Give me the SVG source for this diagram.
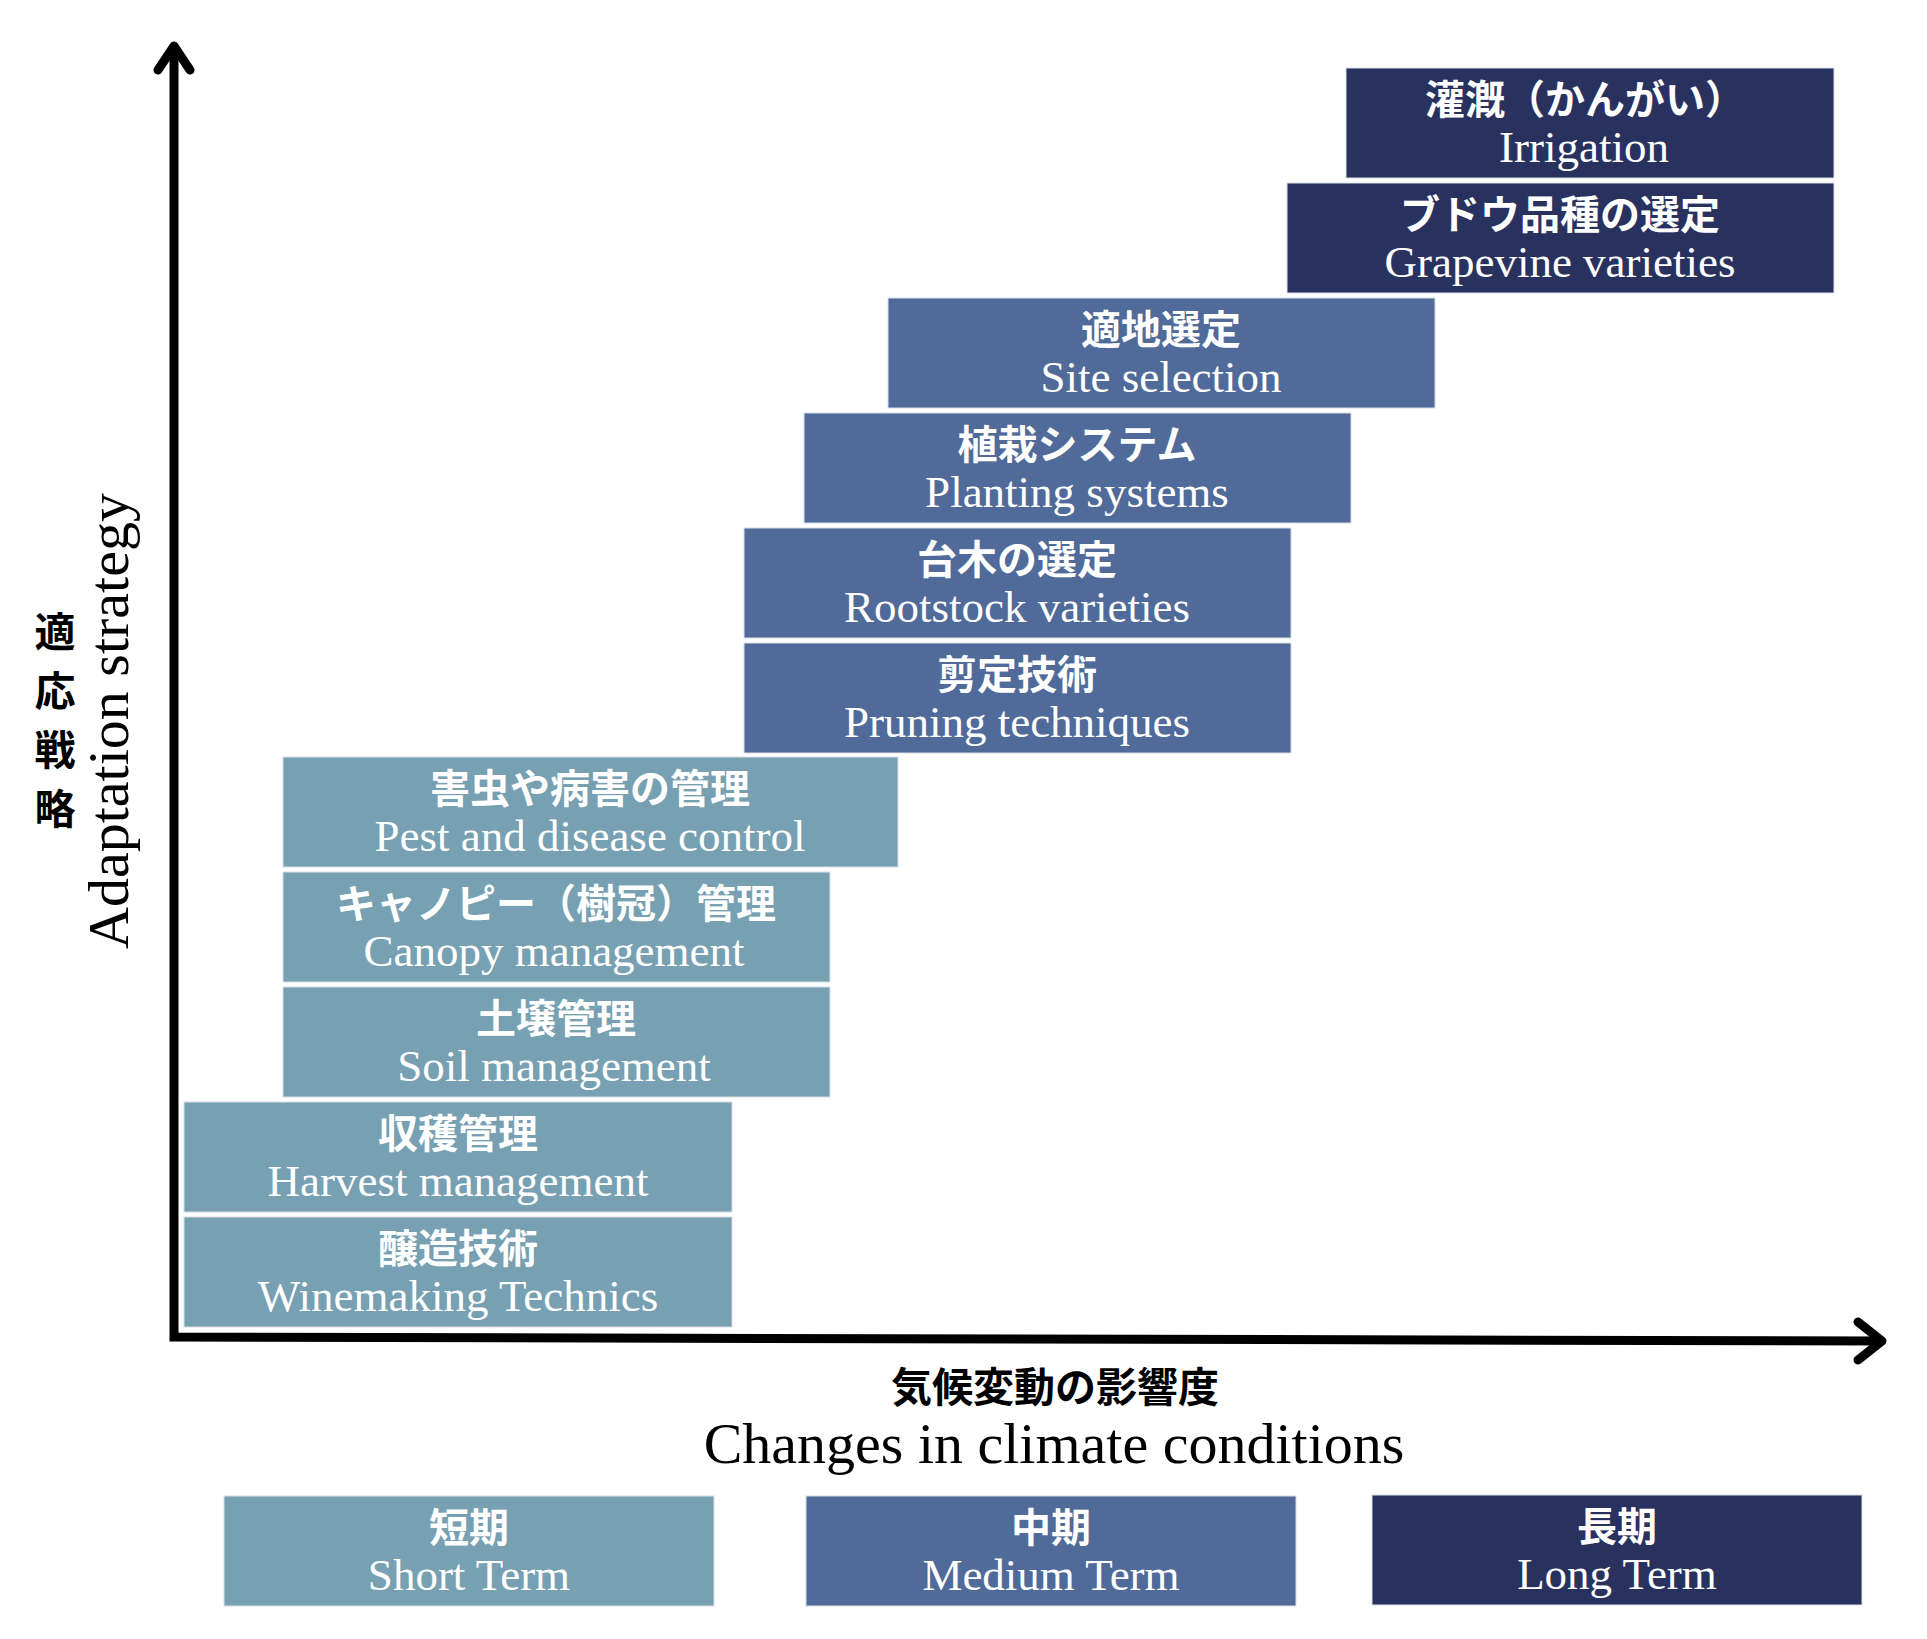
<svg xmlns="http://www.w3.org/2000/svg" width="1927" height="1639" viewBox="0 0 1927 1639">
<style>
.teal{fill:#77A0B2}
.mid{fill:#506A99}
.dark{fill:#29325F}
.box{stroke:#d8dfe6;stroke-width:1}
.jp{font-family:"Noto Sans CJK JP",sans-serif;font-weight:700;font-size:40px;fill:#fff;text-anchor:middle}
.en{font-family:"Liberation Serif",serif;font-size:45px;fill:#fff;text-anchor:middle}
.axis{fill:none;stroke:#000;stroke-width:9}
.head{fill:none;stroke:#000;stroke-width:9;stroke-linecap:round;stroke-linejoin:round}
.lbljp{font-family:"Noto Sans CJK JP",sans-serif;font-weight:700;font-size:41px;fill:#000;text-anchor:middle}
.lblen{font-family:"Liberation Serif",serif;font-size:58px;fill:#000;text-anchor:middle}
</style>
<rect width="1927" height="1639" fill="#fff"/>
<g id="connectors">
<path class="axis" d="M174,48 L174,1337 L1880,1341" stroke-linejoin="miter"/>
<path class="head" d="M158,70 L174,46 L190,70"/>
<path class="head" d="M1858,1322 L1882,1341 L1858,1360"/>
</g>
<g id="irrigation"><rect class="box dark" x="1346" y="68" width="488" height="110"/><text class="jp" x="1585" y="114">灌漑（かんがい）</text><text class="en" x="1584" y="162">Irrigation</text></g>
<g id="grapevine"><rect class="box dark" x="1287" y="183" width="547" height="110"/><text class="jp" x="1560" y="229">ブドウ品種の選定</text><text class="en" x="1560" y="277">Grapevine varieties</text></g>
<g id="site"><rect class="box mid" x="888" y="298" width="547" height="110"/><text class="jp" x="1161" y="344">適地選定</text><text class="en" x="1161" y="392">Site selection</text></g>
<g id="planting"><rect class="box mid" x="804" y="413" width="547" height="110"/><text class="jp" x="1077" y="459">植栽システム</text><text class="en" x="1077" y="507">Planting systems</text></g>
<g id="rootstock"><rect class="box mid" x="744" y="528" width="547" height="110"/><text class="jp" x="1017" y="574">台木の選定</text><text class="en" x="1017" y="622">Rootstock varieties</text></g>
<g id="pruning"><rect class="box mid" x="744" y="643" width="547" height="110"/><text class="jp" x="1017" y="689">剪定技術</text><text class="en" x="1017" y="737">Pruning techniques</text></g>
<g id="pest"><rect class="box teal" x="283" y="757" width="615" height="110"/><text class="jp" x="590" y="803">害虫や病害の管理</text><text class="en" x="590" y="851">Pest and disease control</text></g>
<g id="canopy"><rect class="box teal" x="283" y="872" width="547" height="110"/><text class="jp" x="556" y="918">キャノピー（樹冠）管理</text><text class="en" x="554" y="966">Canopy management</text></g>
<g id="soil"><rect class="box teal" x="283" y="987" width="547" height="110"/><text class="jp" x="556" y="1033">土壌管理</text><text class="en" x="554" y="1081">Soil management</text></g>
<g id="harvest"><rect class="box teal" x="184" y="1102" width="548" height="110"/><text class="jp" x="458" y="1148">収穫管理</text><text class="en" x="458" y="1196">Harvest management</text></g>
<g id="winemaking"><rect class="box teal" x="184" y="1217" width="548" height="110"/><text class="jp" x="458" y="1263">醸造技術</text><text class="en" x="458" y="1311">Winemaking Technics</text></g>
<g id="y-label">
<text class="lbljp" x="55" y="647">適</text>
<text class="lbljp" x="55" y="706">応</text>
<text class="lbljp" x="55" y="765">戦</text>
<text class="lbljp" x="55" y="824">略</text>
<text class="lblen" transform="translate(128,721) rotate(-90)">Adaptation strategy</text>
</g>
<g id="x-label">
<text class="lbljp" x="1055" y="1402">気候変動の影響度</text>
<text class="lblen" x="1054" y="1463">Changes in climate conditions</text>
</g>
<g id="short-term"><rect class="box teal" x="224" y="1496" width="490" height="110"/><text class="jp" x="469" y="1542">短期</text><text class="en" x="469" y="1590">Short Term</text></g>
<g id="medium-term"><rect class="box mid" x="806" y="1496" width="490" height="110"/><text class="jp" x="1051" y="1542">中期</text><text class="en" x="1051" y="1590">Medium Term</text></g>
<g id="long-term"><rect class="box dark" x="1372" y="1495" width="490" height="110"/><text class="jp" x="1617" y="1541">長期</text><text class="en" x="1617" y="1589">Long Term</text></g>
</svg>
